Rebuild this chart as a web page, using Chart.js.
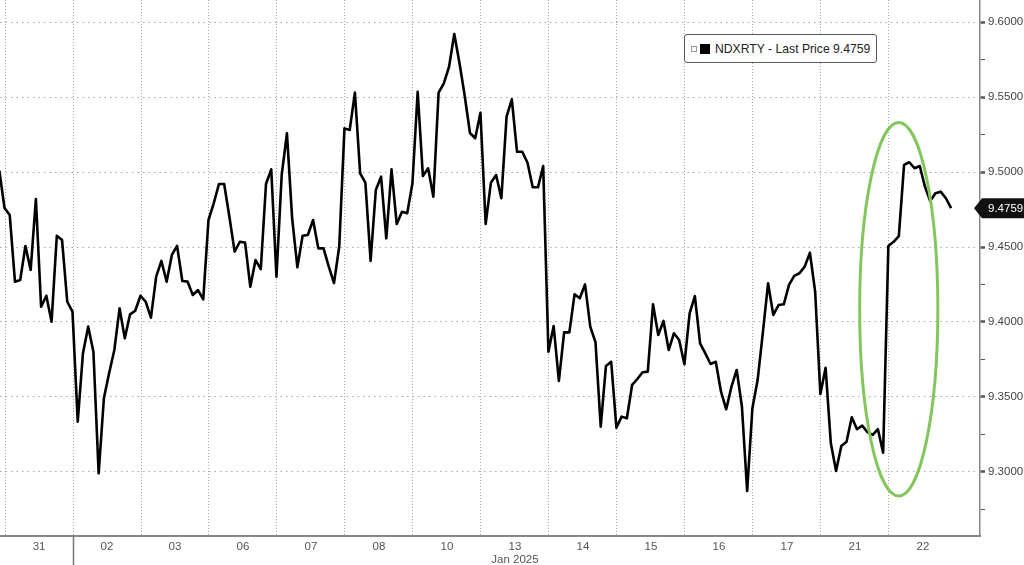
<!DOCTYPE html>
<html>
<head>
<meta charset="utf-8">
<script src="https://cdn.jsdelivr.net/npm/chart.js@4.4.1/dist/chart.umd.min.js"></script>
<style>
  html, body { margin: 0; padding: 0; background: #fff; }
  #wrap { position: relative; width: 1024px; height: 565px; overflow: hidden; }
  #legend {
    position: absolute; left: 684px; top: 34px; width: 191px; height: 27px;
    border: 1.5px solid #5a5a5a; border-radius: 3px; background: #fff;
    font: 12.2px "Liberation Sans", Arial, sans-serif; color: #222;
    display: flex; align-items: center; white-space: nowrap;
  }
  #legend .exp { width: 4px; height: 4px; border: 1px solid #999; margin: 0 3px 0 6px; }
  #legend .sw { width: 10px; height: 10px; background: #000; margin-right: 5px; }
</style>
</head>
<body>
<div id="wrap">
  <canvas id="chart" width="1024" height="565"></canvas>
  <div id="legend"><span class="exp"></span><span class="sw"></span><span>NDXRTY - Last Price 9.4759</span></div>
</div>
<script>
// trading sessions shown on the axis (Dec 30 only partly visible)
const dayLabels = ['30', '31', '02', '03', '06', '07', '08', '10', '13', '14', '15', '16', '17', '21', '22'];
const barsPerDay = 13; // 30 minute bars

// NDX / RTY ratio, 30 min bars per session
const dec30 = [9.501, 9.476]; // last two bars of the session
const dec31 = [9.4713, 9.4269, 9.428, 9.4507, 9.4347, 9.482, 9.4102, 9.4175, 9.4002, 9.4575, 9.4547, 9.4135, 9.4069];
const jan02 = [9.3335, 9.3791, 9.3969, 9.3802, 9.2991, 9.3491, 9.3658, 9.3813, 9.4091, 9.3891, 9.4051, 9.4075, 9.4175];
const jan03 = [9.4135, 9.4029, 9.4302, 9.4407, 9.4269, 9.4447, 9.4507, 9.4273, 9.4269, 9.418, 9.4213, 9.4151, 9.468];
const jan06 = [9.4791, 9.492, 9.492, 9.4702, 9.4469, 9.4535, 9.4529, 9.4235, 9.4413, 9.4353, 9.492, 9.5018, 9.4302];
const jan07 = [9.498, 9.5258, 9.4691, 9.4365, 9.4575, 9.458, 9.468, 9.4491, 9.4491, 9.4369, 9.426, 9.4502, 9.5291];
const jan08 = [9.528, 9.5529, 9.4991, 9.4929, 9.4407, 9.488, 9.4969, 9.4558, 9.5018, 9.4653, 9.4735, 9.4725, 9.4925];
const jan10 = [9.5535, 9.4973, 9.5025, 9.4835, 9.5529, 9.5591, 9.5702, 9.592, 9.5725, 9.5507, 9.526, 9.5225, 9.5395];
const jan13 = [9.4653, 9.4929, 9.498, 9.4825, 9.5369, 9.5485, 9.5135, 9.5135, 9.5062, 9.4898, 9.4898, 9.504, 9.3802];
const jan14 = [9.3973, 9.3607, 9.3931, 9.3931, 9.4185, 9.4158, 9.4251, 9.3969, 9.3865, 9.3302, 9.3707, 9.3735, 9.3295];
const jan15 = [9.3369, 9.3358, 9.358, 9.362, 9.3665, 9.3669, 9.4118, 9.3913, 9.4007, 9.3813, 9.3925, 9.388, 9.3718];
const jan16 = [9.4058, 9.4173, 9.3858, 9.3791, 9.372, 9.3735, 9.3535, 9.3418, 9.3569, 9.368, 9.3435, 9.2873, 9.3425];
const jan17 = [9.3613, 9.3929, 9.4258, 9.4047, 9.4113, 9.4118, 9.4247, 9.4307, 9.4325, 9.4369, 9.4462, 9.4202, 9.352];
const jan21 = [9.3695, 9.3191, 9.3007, 9.3173, 9.3202, 9.3365, 9.3285, 9.3309, 9.3265, 9.3247, 9.3285, 9.3129, 9.4507];
const jan22 = [9.4535, 9.4573, 9.5047, 9.5065, 9.5025, 9.504, 9.4902, 9.4807, 9.4858, 9.4869, 9.4825, 9.4759];
const lastPrice = 9.4759;

const sessions = [dec30, dec31, jan02, jan03, jan06, jan07, jan08, jan10, jan13, jan14, jan15, jan16, jan17, jan21, jan22];

// y axis ticks
const yMajor = [9.30, 9.35, 9.40, 9.45, 9.50, 9.55, 9.60];
const yMinor = [9.275, 9.325, 9.375, 9.425, 9.475, 9.525, 9.575];

// the circled move (day range, price range)
const circleDays = [12.57, 13.72];
const circlePrices = [9.284, 9.533];

// build x/y points: session i sits between day i-1 and day i
const points = [];
sessions.forEach((vals, i) => {
    const start = i === 0 ? barsPerDay - vals.length : 0;
    vals.forEach((v, j) => {
        points.push({ x: (i - 1) + (start + j + 0.9) / barsPerDay, y: v });
    });
});

const xTicks = [];
for (let k = 0; k < sessions.length - 1; k++) {
    xTicks.push(k, k + 0.5);
}

// extras: year separator, month label, highlight ellipse, last price tag
const overlay = {
    id: 'overlay',
    afterDatasetsDraw(chart) {
        const { ctx, scales: { x, y } } = chart;
        const x1 = x.getPixelForValue(circleDays[0]), x2 = x.getPixelForValue(circleDays[1]);
        const y1 = y.getPixelForValue(circlePrices[1]), y2 = y.getPixelForValue(circlePrices[0]);
        ctx.save();
        ctx.strokeStyle = '#83c75c';
        ctx.lineWidth = 3;
        ctx.beginPath();
        ctx.ellipse((x1 + x2) / 2, (y1 + y2) / 2, (x2 - x1) / 2, (y2 - y1) / 2, 0, 0, Math.PI * 2);
        ctx.stroke();
        ctx.restore();
    },
    afterDraw(chart) {
        const { ctx, chartArea, scales: { x, y } } = chart;
        ctx.save();
        // year separator below the axis
        const sx = Math.round(x.getPixelForValue(1)) + 0.5;
        ctx.strokeStyle = '#777';
        ctx.lineWidth = 1.5;
        ctx.beginPath();
        ctx.moveTo(sx, chartArea.bottom);
        ctx.lineTo(sx, chart.height);
        ctx.stroke();
        // month label under "13"
        ctx.fillStyle = '#555';
        ctx.font = '11.5px "Liberation Sans", Arial, sans-serif';
        ctx.textAlign = 'center';
        ctx.textBaseline = 'middle';
        ctx.fillText('Jan 2025', x.getPixelForValue(7.5), 560);
        // last price tag
        const py = y.getPixelForValue(lastPrice);
        const tip = chartArea.right - 6, body = chartArea.right + 2, h = 10;
        ctx.fillStyle = '#111';
        ctx.beginPath();
        ctx.moveTo(tip, py);
        ctx.lineTo(body, py - h);
        ctx.lineTo(chart.width, py - h);
        ctx.lineTo(chart.width, py + h);
        ctx.lineTo(body, py + h);
        ctx.closePath();
        ctx.fill();
        ctx.fillStyle = '#fff';
        ctx.textAlign = 'left';
        ctx.fillText(lastPrice.toFixed(4), body + 6, py + 1);
        ctx.restore();
    }
};

Chart.defaults.font.family = '"Liberation Sans", Arial, sans-serif';
Chart.defaults.color = '#444';

new Chart(document.getElementById('chart').getContext('2d'), {
    type: 'line',
    data: {
        datasets: [{
            label: 'NDXRTY',
            data: points,
            borderColor: '#000',
            borderWidth: 2.6,
            borderJoinStyle: 'round',
            pointRadius: 0,
            tension: 0
        }]
    },
    options: {
        responsive: false,
        animation: false,
        devicePixelRatio: 1,
        layout: { padding: 0 },
        plugins: { legend: { display: false }, tooltip: { enabled: false } },
        scales: {
            x: {
                type: 'linear',
                min: -0.074,
                max: 14.34,
                afterBuildTicks: scale => { scale.ticks = xTicks.map(v => ({ value: v })); },
                afterFit: scale => { scale.height = 29; scale.paddingLeft = 0; scale.paddingRight = 0; },
                grid: {
                    drawTicks: false,
                    color: c => Number.isInteger(c.tick.value) ? '#a9a9a9' : 'rgba(0,0,0,0)',
                    lineWidth: 1
                },
                border: { display: true, color: '#888', width: 2, dash: [1, 2] },
                ticks: {
                    autoSkip: false,
                    maxRotation: 0,
                    padding: 4,
                    font: { size: 11.5 },
                    color: '#555',
                    callback: v => Number.isInteger(v) ? '' : dayLabels[Math.floor(v) + 1]
                }
            },
            y: {
                position: 'right',
                min: 9.2573,
                max: 9.6147,
                afterBuildTicks: scale => {
                    scale.ticks = yMajor.concat(yMinor).sort((a, b) => a - b).map(v => ({ value: v }));
                },
                afterFit: scale => { scale.width = 44; scale.paddingTop = 0; scale.paddingBottom = 0; },
                grid: {
                    color: c => yMajor.includes(c.tick.value) ? '#a9a9a9' : 'rgba(0,0,0,0)',
                    tickColor: '#555',
                    tickWidth: c => yMajor.includes(c.tick.value) ? 2.5 : 1,
                    tickLength: 5
                },
                border: { display: true, color: '#888', width: 1.5, dash: [1.5, 4] },
                ticks: {
                    padding: 3,
                    font: { size: 11.5 },
                    color: '#444',
                    callback: v => yMajor.includes(v) ? v.toFixed(4) : ''
                }
            }
        }
    },
    plugins: [overlay]
});
</script>
</body>
</html>
